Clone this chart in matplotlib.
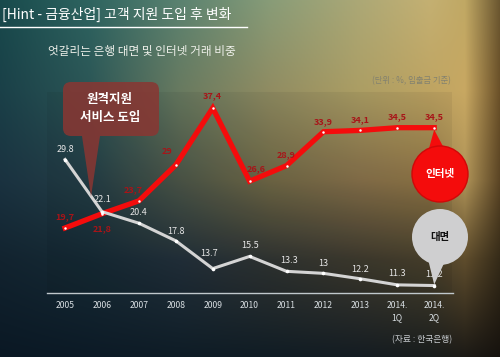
import numpy as np
import matplotlib
matplotlib.use("Agg")
import matplotlib.pyplot as plt
from matplotlib.colors import to_rgb
from matplotlib.patches import Circle, Polygon, FancyBboxPatch

plt.rcParams['font.family'] = ['Noto Sans CJK KR', 'DejaVu Sans']

# data
years = ["2005", "2006", "2007", "2008", "2009", "2010", "2011", "2012",
         "2013", "2014.\n1Q", "2014.\n2Q"]
internet = [19.7, 21.8, 23.7, 29, 37.4, 26.6, 28.9, 33.9, 34.1, 34.5, 34.5]
internet_labels = ["19,7", "21,8", "23,7", "29", "37,4", "26,6", "28,9",
                   "33,9", "34,1", "34,5", "34,5"]
branch = [29.8, 22.1, 20.4, 17.8, 13.7, 15.5, 13.3, 13, 12.2, 11.3, 11.2]
branch_labels = ["29.8", "22.1", "20.4", "17.8", "13.7", "15.5", "13.3",
                 "13", "12.2", "11.3", "11.2"]

# label offsets in points (dx, dy)
red_off = [(0, 8), (0, -11), (-4, 8), (-6, 10), (0, 9), (5, 9), (0, 8),
           (0, 7), (0, 8), (0, 8), (0, 8)]
white_off = [(0, 7), (0, 9), (0, 8), (0, 7), (-3, 11), (0, 8), (2, 8),
             (0, 7), (0, 7), (0, 8), (0, 8)]

W, H = 500, 357
fig = plt.figure(figsize=(W / 100, H / 100), dpi=100)

# background gradient (control colours, interpolated)
gx = [0, 90, 180, 270, 360, 430, 465, 500]
gy = [0, 90, 180, 260, 357]
gcols = [
    ["#184a4c", "#2e6460", "#5a8270", "#889c78", "#aca876", "#c4b072", "#c0a864", "#6a5630"],
    ["#1a4048", "#2c5656", "#687a60", "#908c62", "#ac9e64", "#bea462", "#c8a862", "#6a5028"],
    ["#1a3240", "#243e46", "#4c5648", "#706846", "#86704a", "#907646", "#b09458", "#5a4424"],
    ["#12232f", "#162a34", "#22303a", "#303432", "#3e3a2e", "#48402c", "#5e4c2c", "#342a18"],
    ["#0a1824", "#0c1a26", "#0e1c26", "#101c24", "#141c22", "#181c1c", "#1c1a16", "#16120e"],
]
ctrl = np.array([[to_rgb(c) for c in row] for row in gcols])
xs = np.arange(W) + 0.5
ys = np.arange(H) + 0.5
rows = np.stack([np.stack([np.interp(xs, gx, ctrl[i, :, k]) for k in range(3)], -1)
                 for i in range(len(gy))])
img = np.stack([np.stack([np.interp(ys, gy, rows[:, j, k]) for k in range(3)], -1)
                for j in range(W)], 1)

bg = fig.add_axes([0, 0, 1, 1])
bg.imshow(img, extent=(0, W, 0, H), aspect='auto', interpolation='bilinear')
bg.set_xlim(0, W)
bg.set_ylim(0, H)
bg.axis('off')

# slightly darker plot panel
bg.add_patch(plt.Rectangle((47, H - 293), 405, 201, color='black', alpha=0.05, lw=0))

# title
bg.text(2, H - 14, "[Hint - 금융산업] 고객 지원 도입 후 변화", color='white',
        fontsize=10, va='center', ha='left')
bg.plot([0, 247], [H - 27, H - 27], color='white', lw=1)
bg.text(48, H - 52, "엇갈리는 은행 대면 및 인터넷 거래 비중", color='#eef0ea',
        fontsize=8.4, va='center', ha='left')
bg.text(451, H - 81, "(단위 : %, 입출금 기준)", color='#83826f',
        fontsize=6, va='center', ha='right')
bg.text(452, H - 340, "(자료 : 한국은행)", color='#c8ccd0',
        fontsize=6.3, va='center', ha='right')

# chart axes
ax = fig.add_axes([47 / W, (H - 293) / H, 406 / W, 203 / H])
ax.patch.set_alpha(0)
x = np.arange(len(years))
ax.set_xlim(-0.49, 10.51)
ax.set_ylim(10.1, 40.06)
for s in ['top', 'right', 'left']:
    ax.spines[s].set_visible(False)
ax.spines['bottom'].set_color('#c0c8cc')
ax.spines['bottom'].set_linewidth(1)
ax.set_yticks([])
ax.set_xticks(x)
ax.set_xticklabels(years, color='#d8dee2', fontsize=6.2, linespacing=1.4)
ax.tick_params(axis='x', length=0, pad=6)

ax.plot(x, internet, color='#f40c0c', lw=3.8, solid_joinstyle='miter', zorder=3,
        marker='o', markersize=1.8, markerfacecolor='white', markeredgewidth=0)
ax.plot(x, branch, color='#d4d4d4', lw=2.2, zorder=4,
        marker='o', markersize=2.6, markerfacecolor='white', markeredgewidth=0)

for xi, v, lab, (dx, dy) in zip(x, internet, internet_labels, red_off):
    ax.annotate(lab, (xi, v), xytext=(dx, dy), textcoords='offset points',
                ha='center', va='center', fontsize=6.5, fontweight='bold',
                color='#a81418', zorder=5)
for xi, v, lab, (dx, dy) in zip(x, branch, branch_labels, white_off):
    ax.annotate(lab, (xi, v), xytext=(dx, dy), textcoords='offset points',
                ha='center', va='center', fontsize=6.5, color='#e6e6e6', zorder=5)

# callouts, in pixel space
fig.canvas.draw()
ov = fig.add_axes([0, 0, 1, 1])
ov.set_xlim(0, W)
ov.set_ylim(0, H)
ov.axis('off')
ov.patch.set_alpha(0)

# 원격지원 callout near 2006
tx, ty = ax.transData.transform((1, branch[1]))
tip = (tx - 11, ty + 15)
box_c = '#8a3632'
ov.add_patch(FancyBboxPatch((63, H - 136), 96, 54, boxstyle="round,pad=0,rounding_size=8",
                            fc=box_c, ec='none', alpha=0.85, zorder=6))
ov.add_patch(Polygon([(82, H - 136), (100, H - 136), tip], closed=True,
                     fc=box_c, ec='none', alpha=0.85, zorder=6))
ov.text(110, H - 100, "원격지원", color='white', fontsize=9, fontweight='bold',
        ha='center', va='center', zorder=7)
ov.text(110, H - 118, "서비스 도입", color='white', fontsize=9, fontweight='bold',
        ha='center', va='center', zorder=7)

# 인터넷 circle
px, py = ax.transData.transform((10, internet[-1]))
cx, cy, r = 440, H - 174, 28
ov.add_patch(Polygon([(cx - 12, cy + r - 6), (cx + 6, cy + r - 6), (px, py - 2)],
                     closed=True, fc='#f40c0c', ec='none', zorder=6))
ov.add_patch(Circle((cx, cy), r, fc='#f40c0c', ec='#d00808', lw=1, zorder=6))
ov.text(cx, cy, "인터넷", color='white', fontsize=7.6, fontweight='bold',
        ha='center', va='center', zorder=7)

# 대면 circle
px, py = ax.transData.transform((10, branch[-1]))
cx, cy = 440, H - 237
ov.add_patch(Polygon([(cx - 12, cy - r + 6), (cx + 6, cy - r + 6), (px, py + 1)],
                     closed=True, fc='#cfcfd0', ec='none', zorder=6))
ov.add_patch(Circle((cx, cy), r, fc='#cfcfd0', ec='none', zorder=6))
ov.text(cx, cy, "대면", color='#111111', fontsize=7.5, fontweight='bold',
        ha='center', va='center', zorder=7)

fig.savefig("out.png", dpi=100)
